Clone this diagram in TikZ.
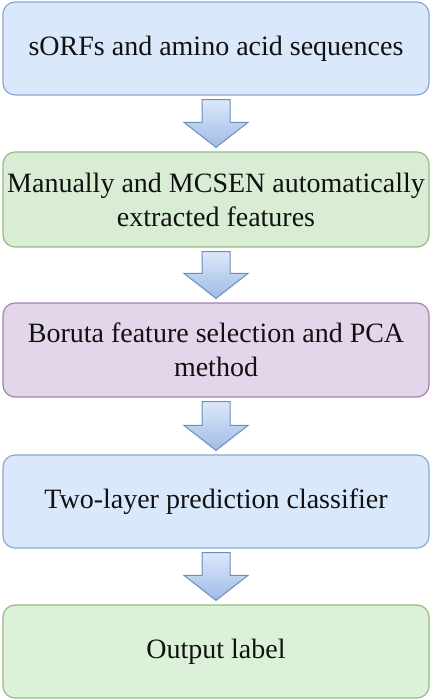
\documentclass[tikz,border=0pt]{standalone}
\usepackage{fontspec}
\setmainfont{Liberation Serif}
\usetikzlibrary{calc}
\definecolor{bluefill}{HTML}{DAE8FC}
\definecolor{bluedraw}{HTML}{8CA6CE}
\definecolor{greenfill}{HTML}{D8EDD4}
\definecolor{greendraw}{HTML}{93BC80}
\definecolor{greenfillb}{HTML}{DCF2D8}
\definecolor{purplefill}{HTML}{E3D6EA}
\definecolor{purpledraw}{HTML}{A083AE}
\definecolor{arrtop}{HTML}{DCE8FA}
\definecolor{arrbot}{HTML}{9FBBE6}
\definecolor{arrdraw}{HTML}{6C8EBF}
\definecolor{txt}{HTML}{111111}
\tikzset{
  box/.style={rounded corners=12pt, line width=1.2pt, minimum width=426pt,
    inner sep=0pt, align=center, text=txt,
    font=\fontsize{28}{34}\selectfont},
  bluebox/.style={box, fill=bluefill, draw=bluedraw},
  greenbox/.style={box, fill=greenfill, draw=greendraw},
  greenboxb/.style={box, fill=greenfillb, draw=greendraw},
  purplebox/.style={box, fill=purplefill, draw=purpledraw},
  blk/.style={draw=arrdraw, line width=1pt, top color=arrtop, bottom color=arrbot, line join=miter}
}
\newcommand{\blkarrow}[2]{%
  \path[blk] ($(#1.south)+(-14,-4)$) -- ($(#2.north)+(-14,29)$) -- ($(#2.north)+(-32,29)$)
    -- ($(#2.north)+(0,4)$) -- ($(#2.north)+(32,29)$) -- ($(#2.north)+(14,29)$)
    -- ($(#1.south)+(14,-4)$) -- cycle;}
\begin{document}
\begin{tikzpicture}[x=1pt,y=1pt]
\useasboundingbox (0,0) rectangle (432,700);
\node[bluebox, minimum height=93pt] (b1) at (216,651.5) {sORFs and amino acid sequences};
\node[greenbox, minimum height=95pt] (b2) at (216,500.5) {Manually and MCSEN automatically\\extracted features};
\node[purplebox, minimum height=94pt] (b3) at (216,350) {Boruta feature selection and PCA\\method};
\node[bluebox, minimum height=93pt] (b4) at (216,198.5) {Two-layer prediction classifier};
\node[greenboxb, minimum height=93pt] (b5) at (216,48.5) {Output label};
\blkarrow{b1}{b2}
\blkarrow{b2}{b3}
\blkarrow{b3}{b4}
\blkarrow{b4}{b5}
\end{tikzpicture}
\end{document}
